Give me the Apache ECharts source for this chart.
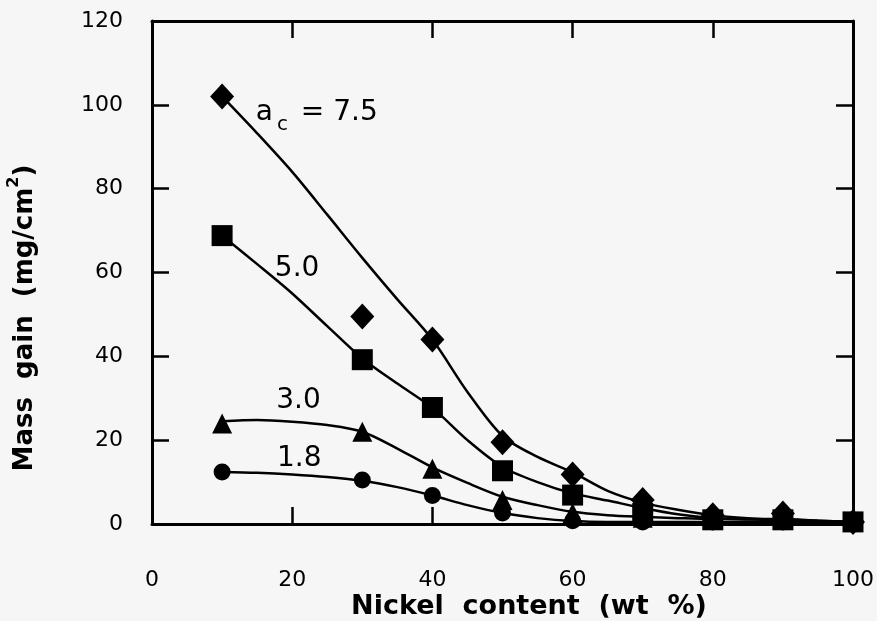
<!DOCTYPE html>
<html>
<head>
<meta charset="utf-8">
<script src="https://cdn.jsdelivr.net/npm/echarts@6/dist/echarts.min.js"></script>
<style>
html,body{margin:0;padding:0;background:#f6f6f6;}
#c{width:877px;height:621px;}
</style>
</head>
<body>
<div id="c"></div>
<script>
// Measured points (Nickel content, wt %)
const nickel = [10, 30, 40, 50, 60, 70, 80, 90, 100];
const ac75 = [102, 49.5, 44, 19.5, 11.8, 5.7, 2.1, 2.5, 0.5];
const ac50 = [68.8, 39.2, 27.8, 12.7, 6.9, 2.5, 1.0, 1.0, 0.5];
const ac30 = [24.0, 22.0, 13.2, 5.7, 2.6, 1.5, 1.0, 2.1, 0.5];
const ac18 = [12.4, 10.5, 6.8, 2.6, 0.8, 0.5, 0.5, 0.5, 0.3];

// Fitted curves
const fitX = [10, 15, 20, 25, 30, 35, 40, 45, 50, 55, 60, 65, 70, 75, 80, 85, 90, 95, 100];
const fit75 = [102, 93.2, 84, 73.8, 63.5, 53.6, 44, 31.5, 21, 16, 12.3, 7.9, 5.1, 3.4, 2.1, 1.4, 1.0, 0.8, 0.5];
const fit50 = [68.8, 62, 55, 47.2, 39.5, 33.5, 27.7, 20, 13.6, 10, 7.3, 5.6, 3.8, 2.3, 1.4, 1.1, 0.9, 0.7, 0.5];
const fit30 = [24.5, 24.8, 24.4, 23.6, 22, 18, 13.5, 9.8, 6.5, 4.5, 2.9, 2.1, 1.7, 1.4, 1.2, 1.2, 1.2, 0.8, 0.5];
const fit18 = [12.4, 12.2, 11.8, 11.2, 10.3, 8.8, 6.8, 4.5, 2.6, 1.4, 0.7, 0.5, 0.5, 0.5, 0.5, 0.5, 0.5, 0.4, 0.3];

const xTicks = [0, 20, 40, 60, 80, 100];
const yTicks = [0, 20, 40, 60, 80, 100, 120];

const labels = [
  {name: 'a75', coord: [23.5, 98.0]},
  {name: '5.0', coord: [20.7, 61.0]},
  {name: '3.0', coord: [20.9, 29.4]},
  {name: '1.8', coord: [21.0, 15.5]}
];
const xTitle = 'Nickel  content  (wt  %)';

const FONT = 'DejaVu Sans';
const chart = echarts.init(document.getElementById('c'), null, {renderer: 'canvas'});

function pts(xs, ys) { return xs.map((x, i) => [x, ys[i]]); }

function fitSeries(ys, lab) {
  const s = {
    type: 'line', data: pts(fitX, ys), smooth: 0.3, showSymbol: false, symbol: 'none',
    lineStyle: {color: '#000', width: 2.5}, z: 2, clip: false, silent: true
  };
  if (lab) {
    s.markPoint = {
      symbol: 'circle', symbolSize: 0, silent: true,
      data: [{coord: lab.coord, value: lab.name}],
      label: {
        show: true, position: 'inside', color: '#000', fontFamily: FONT, fontSize: 28,
        formatter: lab.name === 'a75' ? '{a|a}{s|c}{a| = 7.5}' : lab.name,
        rich: {
          a: {fontSize: 28, fontFamily: FONT, color: '#000', lineHeight: 44, verticalAlign: 'middle'},
          s: {fontSize: 20, fontFamily: FONT, color: '#000', lineHeight: 44, verticalAlign: 'bottom', padding: [0, 4, 0, 4]}
        }
      }
    };
  }
  return s;
}

function markSeries(ys, symbol, size) {
  return {
    type: 'line', data: pts(nickel, ys), symbol: symbol, symbolSize: size, showSymbol: true,
    lineStyle: {width: 0, opacity: 0}, itemStyle: {color: '#000'}, z: 3, clip: false, silent: true
  };
}

const axisLine = {show: true, onZero: false, lineStyle: {color: '#000', width: 3}};
const tick = {show: true, inside: true, length: 17, lineStyle: {color: '#000', width: 2.5}};

chart.setOption({
  backgroundColor: '#f6f6f6',
  animation: false,
  grid: {left: 152, right: 21, top: 21, bottom: 97, show: false},
  xAxis: [{
    type: 'value', min: 0, max: 100, interval: 20, position: 'bottom',
    axisLine: axisLine, axisTick: tick,
    axisLabel: {color: '#000', fontFamily: FONT, fontSize: 22, margin: 45,
      formatter: v => xTicks.includes(v) ? String(v) : ''},
    splitLine: {show: false}
  }, {
    type: 'value', min: 0, max: 100, interval: 20, position: 'top',
    axisLine: axisLine, axisTick: tick,
    axisLabel: {show: false}, splitLine: {show: false}
  }],
  yAxis: [{
    type: 'value', min: 0, max: 120, interval: 20, position: 'left',
    axisLine: axisLine, axisTick: tick,
    axisLabel: {color: '#000', fontFamily: FONT, fontSize: 22, margin: 29,
      formatter: v => yTicks.includes(v) ? String(v) : ''},
    splitLine: {show: false}
  }, {
    type: 'value', min: 0, max: 120, interval: 20, position: 'right',
    axisLine: axisLine, axisTick: tick,
    axisLabel: {show: false}, splitLine: {show: false}
  }],
  graphic: [{
    type: 'text', x: 22, y: 318, rotation: Math.PI / 2,
    style: {
      text: '{t|Mass  gain  (mg/cm}{p|2}{t|)}',
      rich: {
        t: {fontFamily: FONT, fontWeight: 'bold', fontSize: 26, fill: '#000', lineHeight: 32, verticalAlign: 'bottom'},
        p: {fontFamily: FONT, fontWeight: 'bold', fontSize: 16, fill: '#000', lineHeight: 32, verticalAlign: 'top'}
      },
      align: 'center', verticalAlign: 'middle'
    }
  }, {
    type: 'text', x: 529, y: 607,
    style: {
      text: xTitle, fontFamily: FONT, fontWeight: 'bold', fontSize: 27, fill: '#000',
      align: 'center', verticalAlign: 'middle'
    }
  }],
  series: [
    fitSeries(fit75, labels[0]),
    fitSeries(fit50, labels[1]),
    fitSeries(fit30, labels[2]),
    fitSeries(fit18, labels[3]),
    markSeries(ac75, 'diamond', [24, 26]),
    markSeries(ac50, 'rect', 21),
    markSeries(ac30, 'triangle', 20),
    markSeries(ac18, 'circle', 17)
  ]
});
</script>
</body>
</html>
